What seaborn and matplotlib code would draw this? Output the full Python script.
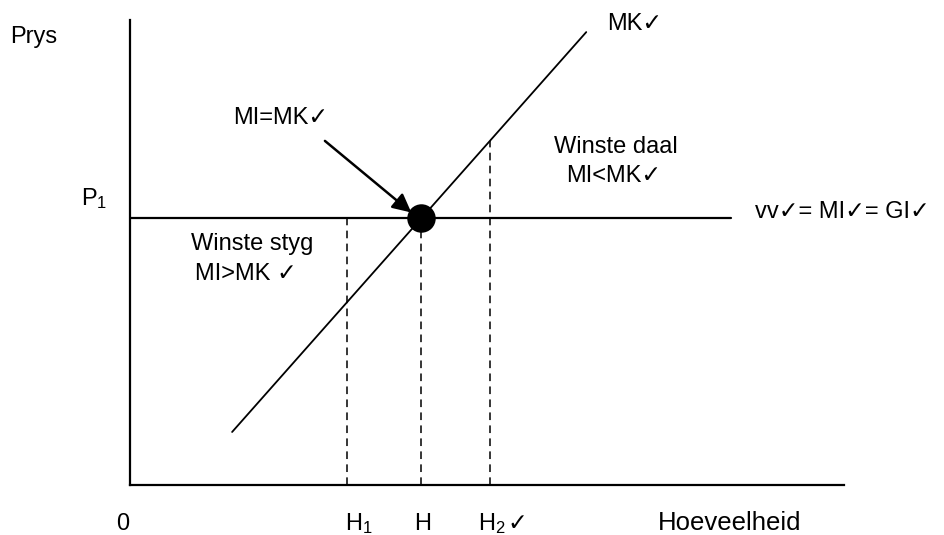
import seaborn as sns
import pandas as pd
import matplotlib.pyplot as plt

# Data (quantity and price in axis units 0-100)
p1 = 57.4
mk_q = [14.3, 63.9]
mk_p = [11.4, 97.4]
vv_q = [0, 84.2]
h_names = ['H1', 'H', 'H2']
h_values = [30.4, 40.7, 50.4]
h_tops = [57.4, 57.4, 74.0]
h_labels = ['H$_1$', 'H', 'H$_2$']

sns.set_theme(style='white')
plt.rcParams['font.family'] = ['Liberation Sans', 'DejaVu Sans']
plt.rcParams['mathtext.fontset'] = 'custom'
plt.rcParams['mathtext.rm'] = 'Liberation Sans'
plt.rcParams['mathtext.it'] = 'Liberation Sans'

fig = plt.figure(figsize=(9.44, 5.35), dpi=100)
ax = fig.add_axes([130 / 944, 50 / 535, 714 / 944, 465 / 535])
ax.set_xlim(0, 100)
ax.set_ylim(0, 100)
for side in ['top', 'right']:
    ax.spines[side].set_visible(False)
for side in ['left', 'bottom']:
    ax.spines[side].set_color('black')
    ax.spines[side].set_linewidth(1.6)
ax.set_xticks([])
ax.set_yticks([])

mk = pd.DataFrame({'q': mk_q, 'p': mk_p})
vv = pd.DataFrame({'q': vv_q, 'p': [p1, p1]})
sns.lineplot(data=mk, x='q', y='p', color='black', lw=1.3, ax=ax)
sns.lineplot(data=vv, x='q', y='p', color='black', lw=1.6, ax=ax)

for q, top in zip(h_values, h_tops):
    ax.plot([q, q], [0, top], color='black', lw=1.1, ls=(0, (5, 3.5)))

sns.scatterplot(x=[h_values[1]], y=[p1], color='black', s=360, marker='o',
                edgecolor='black', ax=ax, zorder=5, clip_on=False)
ax.set_xlabel('')
ax.set_ylabel('')

ax.annotate('', xy=(39.4, 58.6), xytext=(27.3, 74.0),
            arrowprops=dict(arrowstyle='-|>', color='black', lw=1.8,
                            mutation_scale=28, shrinkA=0, shrinkB=0))

fs = 17
txt = dict(color='black', va='baseline', clip_on=False)
ax.text(-16.8, 95.0, 'Prys', ha='left', fontsize=fs, **txt)
ax.text(-6.9, 60.2, 'P$_1$', ha='left', fontsize=fs, **txt)
ax.text(14.4, 77.6, 'MI=MK\u2713', ha='left', fontsize=fs, **txt)
ax.text(66.8, 97.8, 'MK\u2713', ha='left', fontsize=fs, **txt)
ax.text(68.1, 71.4, 'Winste daal', ha='center', fontsize=fs, **txt)
ax.text(67.7, 65.2, 'MI<MK\u2713', ha='center', fontsize=fs, **txt)
ax.text(87.5, 57.4, 'vv\u2713= MI\u2713= GI\u2713', ha='left', fontsize=fs, **txt)
ax.text(17.1, 50.5, 'Winste styg', ha='center', fontsize=fs, **txt)
ax.text(16.2, 44.1, 'MI>MK \u2713', ha='center', fontsize=fs, **txt)

label_q = [30.1, 39.8, 48.7]
ax.text(-1.0, -9.7, '0', ha='center', fontsize=fs, **txt)
for q, lab in zip(label_q, h_labels):
    ax.text(q, -9.7, lab, ha='left', fontsize=fs, **txt)
ax.text(52.9, -9.7, '\u2713', ha='left', fontsize=fs, **txt)
ax.text(73.9, -9.7, 'Hoeveelheid', ha='left', fontsize=18.5, **txt)

fig.savefig('out.png', dpi=100)
